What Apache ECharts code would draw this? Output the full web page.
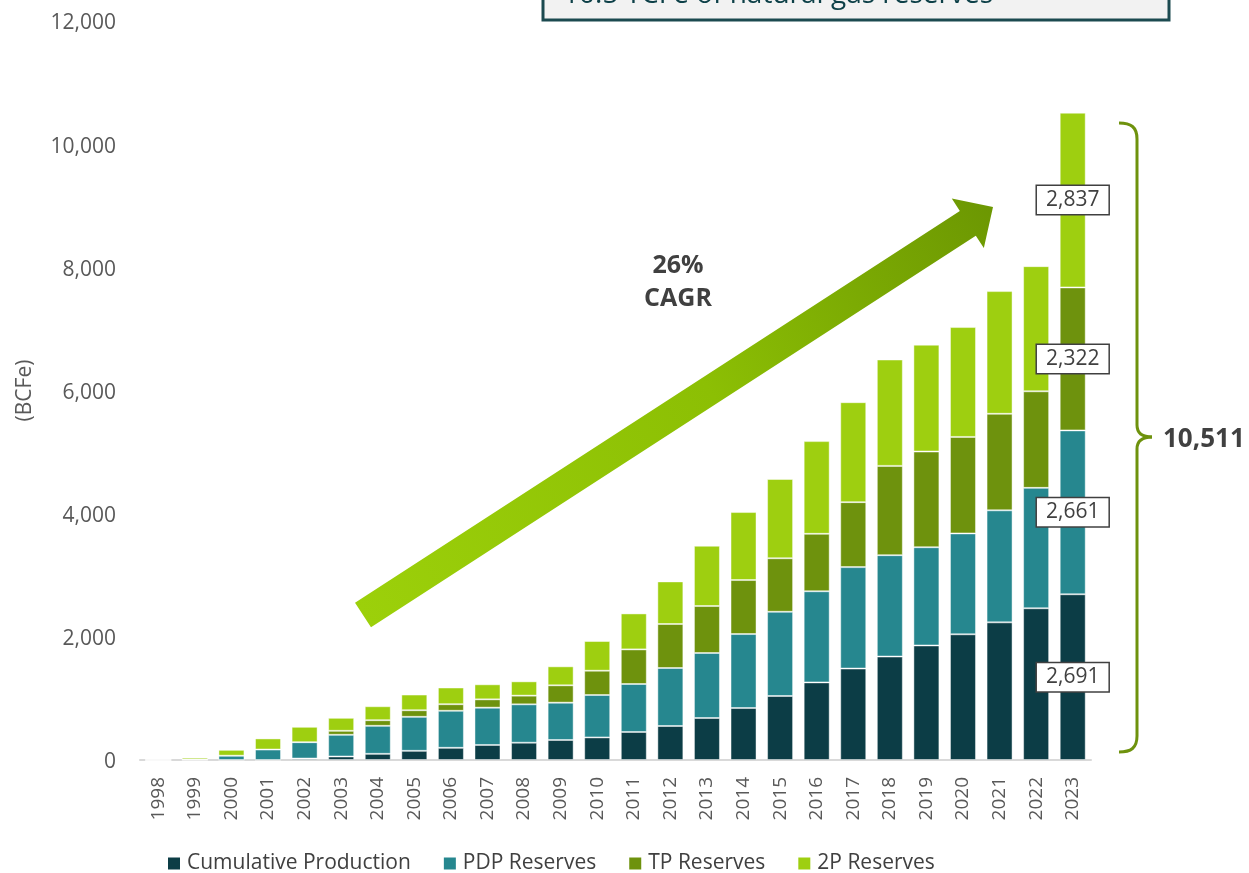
<!DOCTYPE html>
<html>
<head>
<meta charset="utf-8">
<title>Reserves and Cumulative Production</title>
<script src="https://cdn.jsdelivr.net/npm/echarts@6/dist/echarts.min.js"></script>
<style>
  html, body { margin: 0; padding: 0; background: #ffffff; }
  #chart { width: 1249px; height: 873px; }
</style>
</head>
<body>
<div id="chart"></div>
<script>
// Years on the category axis
const years = ['1998','1999','2000','2001','2002','2003','2004','2005','2006','2007','2008','2009','2010',
               '2011','2012','2013','2014','2015','2016','2017','2018','2019','2020','2021','2022','2023'];

// Stacked components, BCFe
const cumulativeProduction = [0, 0, 0, 0, 24, 57, 100, 149, 198, 244, 281, 325, 367,
                              455, 552, 682, 844, 1039, 1260, 1485, 1680, 1860, 2041, 2235, 2464, 2691];
const pdpReserves = [0, 10, 70, 170, 265, 352, 455, 552, 601, 606, 623, 606, 688,
                     779, 942, 1055, 1201, 1368, 1480, 1647, 1646, 1595, 1638, 1819, 1955, 2661];
const tpReserves = [0, 0, 0, 0, 0, 65, 91, 107, 107, 135, 141, 282, 395,
                    562, 714, 763, 877, 869, 933, 1055, 1450, 1554, 1567, 1568, 1568, 2322];
const twoPReserves = [0, 30, 95, 180, 250, 211, 227, 255, 271, 244, 232, 308, 482,
                      584, 692, 979, 1104, 1287, 1505, 1623, 1727, 1735, 1784, 1992, 2032, 2837];

const seriesNames = ['Cumulative Production', 'PDP Reserves', 'TP Reserves', '2P Reserves'];
const seriesColors = ['#0c3d46', '#26878f', '#6e920d', '#9ecf10'];

// Y axis ticks
const yMin = 0, yMax = 12000, yStep = 2000;

const totalLabel = '10,511';
const cagrText = '26%\nCAGR';
const headerText = '10.5 TCFe of natural gas reserves';

const fmt = v => Number(v).toLocaleString('en-US');
const FONT = 'Open Sans';
const lastIdx = years.length - 1;

// Boxed value labels on the final year's segments
const boxLabel = {
  show: true,
  position: 'inside',
  formatter: p => fmt(p.value),
  backgroundColor: '#ffffff',
  borderColor: '#404040',
  borderWidth: 1.5,
  padding: [3, 9],
  color: '#404040',
  fontFamily: FONT,
  fontSize: 21,
  lineHeight: 22
};

function buildSeries(name, values, color) {
  return {
    name: name,
    type: 'bar',
    stack: 'total',
    barWidth: 26,
    itemStyle: { color: color, borderColor: 'rgba(255,255,255,0.45)', borderWidth: 1 },
    emphasis: { disabled: true },
    data: values.map((v, i) => i === lastIdx ? { value: v, label: boxLabel } : v)
  };
}

const chart = echarts.init(document.getElementById('chart'), null, { renderer: 'canvas' });

const option = {
  animation: false,
  backgroundColor: '#ffffff',
  grid: { left: 140, right: 158, top: 21, bottom: 113 },
  legend: {
    data: seriesNames,
    left: 163,
    top: 848,
    icon: 'rect',
    itemWidth: 12,
    itemHeight: 12,
    itemGap: 33,
    itemStyle: { borderWidth: 0 },
    textStyle: { color: '#404040', fontFamily: FONT, fontSize: 21, padding: [0, 0, 0, 2] }
  },
  xAxis: {
    type: 'category',
    data: years,
    axisTick: { show: false },
    axisLine: { lineStyle: { color: '#d9d9d9', width: 2 } },
    axisLabel: { rotate: 90, interval: 0, margin: 17, color: '#595959', fontFamily: FONT, fontSize: 19 }
  },
  yAxis: {
    type: 'value',
    min: yMin,
    max: yMax,
    interval: yStep,
    name: '(BCFe)',
    nameLocation: 'middle',
    nameRotate: 90,
    nameGap: 104,
    nameTextStyle: { color: '#595959', fontFamily: FONT, fontSize: 21 },
    splitLine: { show: false },
    axisLine: { show: false },
    axisTick: { show: false },
    axisLabel: {
      margin: 24, color: '#595959', fontFamily: FONT, fontSize: 21,
      verticalAlign: 'top', lineHeight: 5, formatter: v => fmt(v)
    }
  },
  series: seriesNames.map((n, k) =>
    buildSeries(n, [cumulativeProduction, pdpReserves, tpReserves, twoPReserves][k], seriesColors[k]))
};

chart.setOption(option);

// Growth arrow, bracket and callouts
function arrowPoints(tail, tip, halfShaft, halfHead, headLen) {
  const dx = tip[0] - tail[0], dy = tip[1] - tail[1];
  const len = Math.sqrt(dx * dx + dy * dy);
  const ux = dx / len, uy = dy / len;
  const nx = -uy, ny = ux;
  const bx = tip[0] - ux * headLen, by = tip[1] - uy * headLen;
  return [
    [tail[0] + nx * halfShaft, tail[1] + ny * halfShaft],
    [bx + nx * halfShaft, by + ny * halfShaft],
    [bx + nx * halfHead, by + ny * halfHead],
    [tip[0], tip[1]],
    [bx - nx * halfHead, by - ny * halfHead],
    [bx - nx * halfShaft, by - ny * halfShaft],
    [tail[0] - nx * halfShaft, tail[1] - ny * halfShaft]
  ];
}

const arrowTail = [363, 615];
const arrowTip = [993, 207];
const braceStyle = { fill: null, stroke: '#6e920d', lineWidth: 3 };

// Right-facing curly brace spanning the 2023 bar
const braceX = 1137, braceTop = 123, braceBottom = 752, braceMid = 437, braceEnd = 1119, braceTip = 1152;

chart.setOption({
  graphic: [
    {
      type: 'rect',
      silent: true,
      shape: { x: 543, y: -40, width: 626, height: 60 },
      style: { fill: '#f2f2f2', stroke: '#1c4a50', lineWidth: 3 }
    },
    {
      type: 'text',
      silent: true,
      x: 563, y: 9,
      style: { text: headerText, fill: '#0d4048', font: '28px "' + FONT + '"', verticalAlign: 'bottom' }
    },
    {
      type: 'polygon',
      silent: true,
      shape: { points: arrowPoints(arrowTail, arrowTip, 14.7, 29.5, 30) },
      style: {
        fill: {
          type: 'linear', global: true,
          x: arrowTail[0], y: arrowTail[1], x2: arrowTip[0], y2: arrowTip[1],
          colorStops: [
            { offset: 0, color: '#9cd00a' },
            { offset: 0.55, color: '#8cbf04' },
            { offset: 1, color: '#6c9702' }
          ]
        }
      }
    },
    {
      type: 'text',
      silent: true,
      x: 678, y: 282,
      style: {
        text: cagrText, fill: '#404040', font: 'bold 25px "' + FONT + '"',
        align: 'center', verticalAlign: 'middle', lineHeight: 33
      }
    },
    {
      type: 'bezierCurve', silent: true,
      shape: { x1: braceEnd, y1: braceTop, cpx1: braceX - 6, cpy1: braceTop, cpx2: braceX, cpy2: braceTop + 4, x2: braceX, y2: braceTop + 16 },
      style: braceStyle
    },
    {
      type: 'line', silent: true,
      shape: { x1: braceX, y1: braceTop + 16, x2: braceX, y2: braceMid - 12 },
      style: braceStyle
    },
    {
      type: 'bezierCurve', silent: true,
      shape: { x1: braceX, y1: braceMid - 12, cpx1: braceX, cpy1: braceMid - 4, cpx2: braceX + 5, cpy2: braceMid, x2: braceTip, y2: braceMid },
      style: braceStyle
    },
    {
      type: 'bezierCurve', silent: true,
      shape: { x1: braceTip, y1: braceMid, cpx1: braceX + 5, cpy1: braceMid, cpx2: braceX, cpy2: braceMid + 4, x2: braceX, y2: braceMid + 12 },
      style: braceStyle
    },
    {
      type: 'line', silent: true,
      shape: { x1: braceX, y1: braceMid + 12, x2: braceX, y2: braceBottom - 16 },
      style: braceStyle
    },
    {
      type: 'bezierCurve', silent: true,
      shape: { x1: braceX, y1: braceBottom - 16, cpx1: braceX, cpy1: braceBottom - 4, cpx2: braceX - 6, cpy2: braceBottom, x2: braceEnd, y2: braceBottom },
      style: braceStyle
    },
    {
      type: 'text',
      silent: true,
      x: 1163, y: 440,
      style: { text: totalLabel, fill: '#404040', font: 'bold 26px "' + FONT + '"', verticalAlign: 'middle' }
    }
  ]
});
</script>
</body>
</html>
